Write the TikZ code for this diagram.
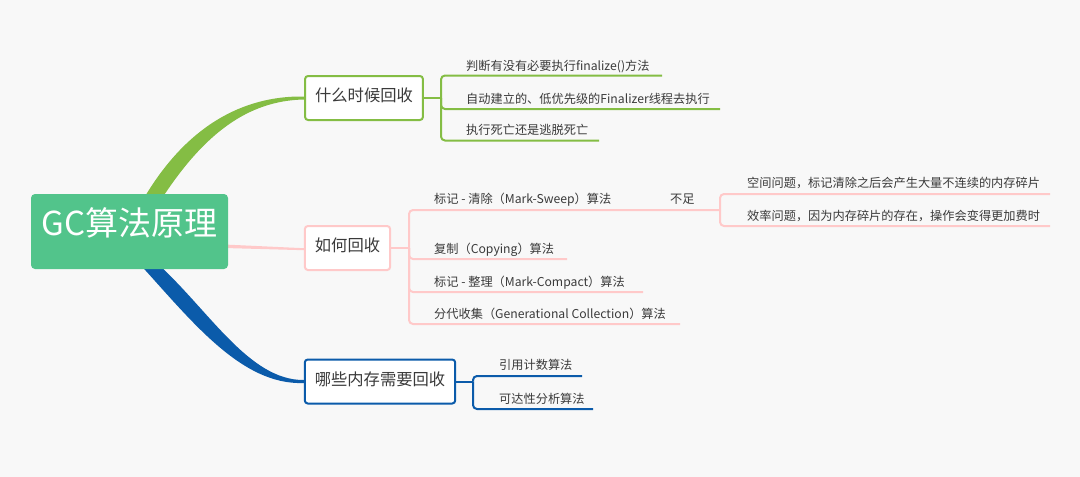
\documentclass[tikz,border=0pt]{standalone}
\usepackage{fontspec}
\setmainfont{Noto Sans CJK SC}
\pgfdeclarelayer{bg}
\pgfsetlayers{bg,main}
\definecolor{rootg}{HTML}{52C48B}
\definecolor{lg}{HTML}{84BD44}
\definecolor{pk}{HTML}{FFC9C9}
\definecolor{bl}{HTML}{0B5BAA}
\definecolor{tx}{HTML}{3A3A3A}
\definecolor{bgc}{HTML}{F8F8F8}
\tikzset{
  branchbox/.style={draw, fill=white, rounded corners=3pt, line width=2pt,
    font=\fontsize{16.3}{18}\selectfont, text=tx, inner xsep=10pt, inner ysep=0pt,
    minimum height=44pt, text height=0.86em, text depth=0.1em},
  leaf/.style={anchor=west, inner sep=0pt, font=\fontsize{12.2}{14}\selectfont,
    text=tx, text height=0.86em, text depth=0.1em},
  conn/.style={line width=2pt, rounded corners=4pt},
  stem/.style={line width=2pt},
}
\begin{document}
\begin{tikzpicture}[x=1pt, y=-1pt]
\begin{pgfonlayer}{bg}
\fill[bgc] (0,0) rectangle (1080,477);
\end{pgfonlayer}
\useasboundingbox (0,0) rectangle (1080,477);

% root
\node[fill=rootg, rounded corners=4pt, minimum width=197pt, minimum height=75pt,
  inner sep=0pt, text=white, font=\fontsize{33}{36}\selectfont,
  text height=0.86em, text depth=0.1em] (root) at (129.5,231.5) {GC算法原理};

% main branches
\node[branchbox, draw=lg] (w) at (364,98) {什么时候回收};
\node[branchbox, draw=pk] (h) at (347.5,248) {如何回收};
\node[branchbox, draw=bl] (n) at (380,381.5) {哪些内存需要回收};

% leaves branch 1
\node[leaf] (w1) at (466,66.5) {判断有没有必要执行finalize()方法};
\node[leaf] (w2) at (466,100) {自动建立的、低优先级的Finalizer线程去执行};
\node[leaf] (w3) at (466,131) {执行死亡还是逃脱死亡};
\coordinate (wj) at (441,98);
\coordinate (w1e) at (662,75.5);
\coordinate (w2e) at (720,109);
\coordinate (w3e) at (599,140.5);

% leaves branch 2
\node[leaf] (h1) at (434,200) {标记 - 清除（Mark-Sweep）算法};
\node[leaf] (bz) at (670,199.5) {不足};
\node[leaf] (h2) at (434,250) {复制（Copying）算法};
\node[leaf] (h3) at (434,282.5) {标记 - 整理（Mark-Compact）算法};
\node[leaf] (h4) at (434,315) {分代收集（Generational Collection）算法};
\node[leaf] (h11) at (747,184) {空间问题，标记清除之后会产生大量不连续的内存碎片};
\node[leaf] (h12) at (747,217) {效率问题，因为内存碎片的存在，操作会变得更加费时};
\coordinate (hj) at (409,248);
\coordinate (sj) at (720,210);
\coordinate (h2e) at (567,259);
\coordinate (h3e) at (643,292);
\coordinate (h4e) at (680,324);
\coordinate (h11e) at (1050,194);
\coordinate (h12e) at (1050,226);

% leaves branch 3
\node[leaf] (n1) at (499,366) {引用计数算法};
\node[leaf] (n2) at (499,400) {可达性分析算法};
\coordinate (nj) at (473,381.5);
\coordinate (n1e) at (582,376);
\coordinate (n2e) at (593,409);

% connectors root -> branches (tapered)
\begin{pgfonlayer}{bg}
\fill[lg] ([xshift=13.5pt,yshift=-6pt]root.north) .. controls (186,126) and (243,95.5) ..
  ([yshift=1.5pt]w.west) -- ([yshift=-1.5pt]w.west) .. controls (247,100.5) and (203,135) ..
  ([xshift=31.5pt,yshift=-6pt]root.north) -- cycle;
\fill[bl] ([xshift=8.5pt,yshift=7pt]root.south) .. controls (191,320) and (241,385.5) ..
  ([yshift=-1.5pt]n.west) -- ([yshift=1.5pt]n.west) .. controls (249,380.5) and (209,310) ..
  ([xshift=26.5pt,yshift=7pt]root.south) -- cycle;
\fill[pk] ([xshift=-4pt,yshift=-13pt]root.east) -- ([yshift=-0.2pt]h.west) --
  ([yshift=-2.2pt]h.west) -- ([xshift=-4pt,yshift=-16.5pt]root.east) -- cycle;
\end{pgfonlayer}

% branch 1 connectors
\draw[stem, lg] (w.east) -- (wj);
\draw[conn, lg] (wj) |- (w1e);
\draw[conn, lg] (wj) |- (w2e);
\draw[conn, lg] (wj) |- (w3e);

% branch 2 connectors
\draw[stem, pk] (h.east) -- (hj);
\draw[conn, pk] (hj) |- (sj);
\draw[conn, pk] (hj) |- (h2e);
\draw[conn, pk] (hj) |- (h3e);
\draw[conn, pk] (hj) |- (h4e);
\draw[conn, pk] (sj) |- (h11e);
\draw[conn, pk] (sj) |- (h12e);

% branch 3 connectors
\draw[stem, bl] (n.east) -- (nj);
\draw[conn, bl] (nj) |- (n1e);
\draw[conn, bl] (nj) |- (n2e);
\end{tikzpicture}
\end{document}
